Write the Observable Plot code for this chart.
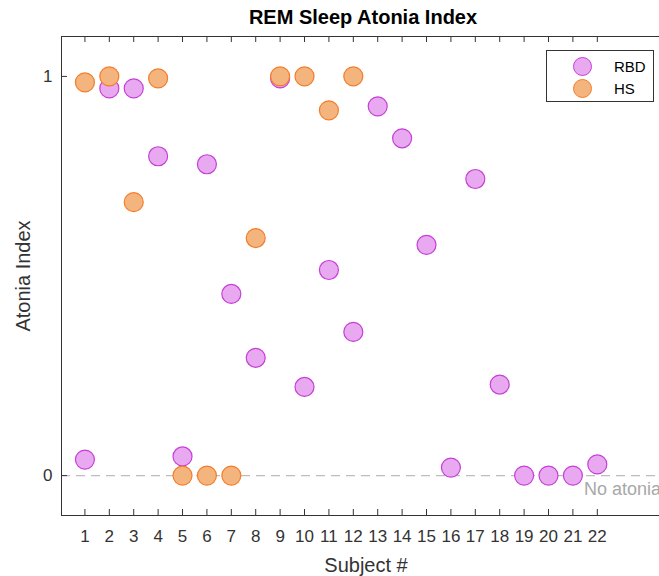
<!DOCTYPE html>
<html>
<head>
<meta charset="utf-8">
<script src="https://cdn.jsdelivr.net/npm/d3@7"></script>
<script src="https://cdn.jsdelivr.net/npm/@observablehq/plot@0.6"></script>
<style>
  html, body { margin: 0; padding: 0; background: #fff; overflow: hidden; }
  #wrap { position: relative; width: 659px; height: 576px; overflow: hidden; font-family: "Liberation Sans", Arial, sans-serif; }
  #title { height: 30px; box-sizing: border-box; padding-top: 5px; padding-left: 67px; line-height: 24px; font-size: 20px; font-weight: bold; text-align: center; color: #000; }
  #chart svg { max-width: none !important; display: block; }
  #legend { position: absolute; left: 546px; top: 50px; width: 108px; height: 52px; box-sizing: border-box; border: 1px solid #333; background: #fff; }
  .item { position: absolute; left: 0; height: 22px; display: flex; align-items: center; font-size: 15px; color: #000; }
  .sw { width: 19px; height: 19px; border-radius: 50%; box-sizing: border-box; margin-left: 26px; margin-right: 22px; }
</style>
</head>
<body>
<div id="wrap">
  <div id="title">REM Sleep Atonia Index</div>
  <div id="chart"></div>
  <div id="legend"></div>
</div>
<script>
const subjects = d3.range(1, 23);
const rbdSubjects = d3.range(1, 23);
const rbdValues = [0.04, 0.97, 0.97, 0.80, 0.048, 0.78, 0.455, 0.295, 0.995, 0.222, 0.515, 0.36, 0.925, 0.845, 0.578, 0.02, 0.743, 0.228, 0.0, 0.0, 0.0, 0.028];
const hsSubjects = d3.range(1, 13);
const hsValues = [0.985, 1.0, 0.685, 0.995, 0.0, 0.0, 0.0, 0.595, 1.0, 1.0, 0.915, 1.0];
const yTicks = [0, 1];
const xDomain = [0.04, 25];
const yDomain = [-0.1, 1.1];
const seriesNames = ["RBD", "HS"];
const fills = ["#e8a9f1", "#f3b47e"];
const strokes = ["#c63fd6", "#f47d2a"];
const annotation = [{x: 21.45, y: 0, text: "No atonia"}];

const rbd = rbdSubjects.map((s, i) => ({subject: s, value: rbdValues[i]}));
const hs = hsSubjects.map((s, i) => ({subject: s, value: hsValues[i]}));

const W = 670, H = 546, mL = 61, mR = 0, mT = 6, mB = 61, tick = 6;
const frameW = W - mL - mR, frameH = H - mT - mB;
const axisColor = "#333";
const chart = Plot.plot({
  width: W,
  height: H,
  marginLeft: mL,
  marginRight: mR,
  marginTop: mT,
  marginBottom: mB,
  style: {fontFamily: "'Liberation Sans', Arial, sans-serif", background: "#fff", color: axisColor},
  x: {domain: xDomain},
  y: {domain: yDomain},
  marks: [
    Plot.ruleY([0], {stroke: "#bdbdbd", strokeWidth: 1.3, strokeDasharray: "9,6"}),
    Plot.text(annotation, {x: "x", y: "y", text: "text", textAnchor: "start", lineAnchor: "top", dy: 7, fontSize: 18, fill: "#a8a8a8"}),
    Plot.dot(rbd, {x: "subject", y: "value", r: 9.5, fill: fills[0], stroke: strokes[0], strokeWidth: 1.2}),
    Plot.dot(hs, {x: "subject", y: "value", r: 9.5, fill: fills[1], stroke: strokes[1], strokeWidth: 1.2}),
    // box: top, bottom, left edges
    Plot.ruleY(yDomain, {stroke: axisColor, strokeWidth: 1}),
    Plot.ruleX([xDomain[0]], {stroke: axisColor, strokeWidth: 1}),
    // inward tick marks
    Plot.tickX(subjects, {x: d => d, insetTop: frameH - tick, stroke: axisColor}),
    Plot.tickX(subjects, {x: d => d, insetBottom: frameH - tick, stroke: axisColor}),
    Plot.tickY(yTicks, {y: d => d, insetRight: frameW - tick, stroke: axisColor}),
    Plot.axisX({anchor: "bottom", ticks: subjects, tickSize: 0, tickPadding: 14, fontSize: 17, label: "Subject #", labelAnchor: "center", labelArrow: "none", labelOffset: 56, fill: axisColor}),
    Plot.axisY({anchor: "left", ticks: yTicks, tickSize: 0, tickPadding: 9, tickFormat: d3.format("d"), fontSize: 17, label: "Atonia Index", labelAnchor: "center", labelArrow: "none", labelOffset: 46, fill: axisColor})
  ]
});
chart.querySelectorAll("g[aria-label='x-axis label'] text, g[aria-label='y-axis label'] text").forEach(t => t.setAttribute("font-size", "20"));
document.getElementById("chart").appendChild(chart);

const legend = document.getElementById("legend");
seriesNames.forEach((name, i) => {
  const item = document.createElement("div");
  item.className = "item";
  item.style.top = (4 + i * 22) + "px";
  const sw = document.createElement("div");
  sw.className = "sw";
  sw.style.background = fills[i];
  sw.style.border = "1.2px solid " + strokes[i];
  item.appendChild(sw);
  item.appendChild(document.createTextNode(name));
  legend.appendChild(item);
});
</script>
</body>
</html>
